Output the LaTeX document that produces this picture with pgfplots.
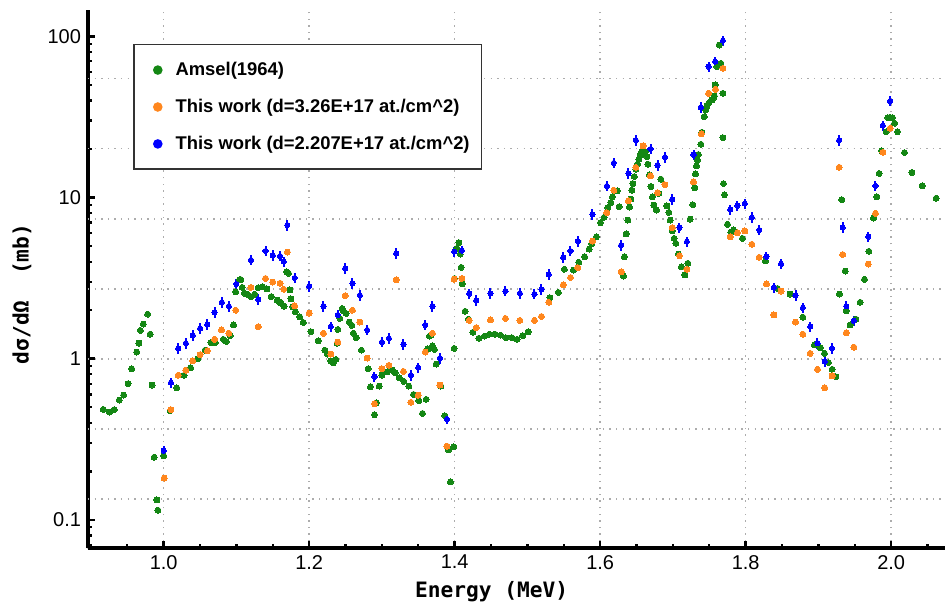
\documentclass[border=0pt]{standalone}
\usepackage{fontspec}
\setmainfont{Liberation Sans}
\newfontfamily\labfont{DejaVu Sans Mono}
\usepackage{pgfplots}
\pgfplotsset{compat=1.18}
\definecolor{amsel}{RGB}{20,135,20}
\definecolor{workA}{RGB}{255,135,30}
\definecolor{workB}{RGB}{0,0,255}

\pgfplotstableread{
x y
0.917 0.485
0.9255 0.467
0.932 0.483
0.939 0.554
0.945 0.595
0.951 0.70
0.956 0.867
0.963 1.10
0.966 1.25
0.968 1.50
0.972 1.64
0.978 1.89
0.9814 1.42
0.984 0.687
0.987 0.245
0.9907 0.133
0.992 0.115
1.000 0.250
1.009 0.476
1.018 0.66
1.028 0.79
1.037 0.88
1.047 1.00
1.057 1.13
1.065 1.26
1.071 1.26
1.082 1.32
1.086 1.28
1.0914 1.39
1.096 1.62
1.099 2.6
1.104 3.08
1.106 3.1
1.108 2.77
1.111 2.55
1.115 2.51
1.120 2.43
1.125 2.51
1.130 2.76
1.136 2.80
1.142 2.71
1.148 2.43
1.156 2.31
1.159 2.25
1.1615 2.21
1.1656 2.12
1.169 3.46
1.1716 3.39
1.1735 2.67
1.175 2.35
1.1776 2.10
1.181 1.96
1.187 1.82
1.192 1.68
1.2025 1.47
1.2124 1.29
1.2216 1.13
1.2252 1.07
1.2298 0.97
1.2334 0.944
1.2367 0.99
1.2385 1.25
1.2394 1.52
1.2422 1.78
1.2454 2.05
1.2471 1.98
1.2509 1.91
1.255 1.69
1.2587 1.61
1.2609 1.44
1.2646 1.35
1.2719 1.13
1.2811 0.867
1.2843 0.67
1.2898 0.45
1.2925 0.533
1.2962 0.677
1.30 0.792
1.3021 0.82
1.3076 0.83
1.3137 0.851
1.3182 0.82
1.3237 0.762
1.330 0.724
1.337 0.677
1.3434 0.601
1.3508 0.549
1.3558 0.458
1.3608 0.56
1.3632 1.15
1.3654 1.38
1.3673 1.40
1.3695 1.20
1.3723 1.14
1.3746 0.927
1.381 0.677
1.3865 0.443
1.3915 0.272
1.3942 0.172
1.3989 0.284
1.3993 1.16
1.3997 3.15
1.403 4.84
1.4058 5.25
1.4076 4.46
1.409 3.69
1.4103 2.91
1.4144 1.97
1.419 1.76
1.425 1.46
1.4332 1.34
1.441 1.38
1.4478 1.42
1.4553 1.42
1.463 1.40
1.4704 1.35
1.4786 1.35
1.4859 1.32
1.4937 1.39
1.501 1.47
1.5309 2.39
1.5425 2.58
1.5508 3.59
1.5633 3.55
1.5706 3.97
1.5785 4.29
1.5849 4.79
1.5886 5.17
1.5949 5.71
1.6004 6.98
1.6055 7.54
1.6106 8.64
1.6147 9.29
1.6169 10.1
1.6234 11.0
1.6261 8.77
1.632 3.26
1.6334 4.29
1.6357 5.94
1.638 7.25
1.6403 8.73
1.6422 9.79
1.6436 11.1
1.645 12.2
1.647 13.5
1.649 15.0
1.6513 16.1
1.6532 17.3
1.655 18.4
1.6573 19.2
1.6595 19.5
1.6619 19.2
1.6642 17.9
1.6656 16.1
1.6678 13.8
1.6697 11.7
1.6719 10.1
1.6738 8.98
1.6774 8.36
1.6807 10.6
1.6834 13.0
1.6917 8.86
1.6944 8.09
1.6962 7.25
1.6994 6.22
1.7017 5.58
1.704 5.20
1.7076 4.46
1.7117 3.71
1.7164 3.31
1.7205 3.91
1.7237 7.35
1.7274 9.02
1.730 11.5
1.731 14.0
1.7324 15.7
1.7337 17.1
1.735 18.5
1.7384 21.4
1.7398 25.4
1.743 31.7
1.745 34.9
1.7466 36.9
1.749 38.4
1.7536 40.3
1.7557 41.4
1.757 42.6
1.758 49.9
1.7604 64.8
1.7636 88.3
1.7659 68
1.7687 44.3
1.7687 23.5
1.7695 12.2
1.7709 10.4
1.775 6.82
1.7797 6.1
1.7832 6.29
1.7956 5.58
1.8272 4.04
1.8437 2.73
1.861 2.52
1.8786 1.81
1.8946 1.22
1.9028 1.17
1.9083 1.08
1.9138 0.947
1.9189 0.86
1.924 0.773
1.9289 2.52
1.932 9.7
1.9368 3.50
1.9381 1.98
1.9436 1.62
1.9515 1.76
1.9574 2.24
1.9633 3.11
1.9693 4.64
1.9757 7.46
1.9803 10.1
1.9835 14.1
1.9867 19.5
1.9931 25.6
1.9954 31.3
1.9986 31.4
2.0018 31.3
2.0046 28.9
2.0087 25.6
2.0183 19.0
2.0285 14.3
2.0426 11.8
2.0619 9.9
}\amseldata

\pgfplotstableread{
x y
1.0007 0.182
1.010 0.483
1.020 0.79
1.0305 0.85
1.040 0.97
1.050 1.06
1.060 1.12
1.070 1.32
1.0795 1.51
1.0896 1.44
1.099 2.0
1.12 2.77
1.13 1.58
1.14 3.15
1.15 2.99
1.16 2.94
1.165 2.70
1.17 4.59
1.18 2.13
1.20 1.92
1.2197 1.44
1.2298 1.07
1.2394 1.27
1.2495 2.46
1.2595 2.0
1.2697 1.69
1.2797 1.01
1.2898 0.526
1.30 0.867
1.3096 0.91
1.3196 3.08
1.3296 0.835
1.3398 0.537
1.3498 0.595
1.3595 1.10
1.3695 1.44
1.3797 0.687
1.3893 0.287
1.3993 3.12
1.41 3.15
1.42 1.73
1.4296 1.56
1.4492 1.74
1.4698 1.78
1.4896 1.73
1.5097 1.73
1.5193 1.83
1.5293 2.24
1.5492 2.87
1.5592 3.19
1.5693 3.67
1.5894 5.37
1.6092 8.05
1.6188 11.1
1.6289 3.46
1.6389 9.55
1.649 15.4
1.659 20.9
1.6692 13.6
1.6788 10.7
1.689 12.0
1.699 6.50
1.709 4.36
1.7192 3.59
1.7283 12.5
1.739 24.8
1.749 44.3
1.7585 46.9
1.7687 63.3
1.7787 5.71
1.7887 6.05
1.7989 6.2
1.8085 5.13
1.8186 4.26
1.8286 2.91
1.8388 1.87
1.8486 2.63
1.8685 1.69
1.8786 1.42
1.8887 1.08
1.8987 0.86
1.9086 0.661
1.9187 0.782
1.9285 15.4
1.9333 4.43
1.9383 1.45
1.9487 1.18
1.9684 3.87
1.9784 7.98
1.9886 19.1
1.9986 26.9
}\workAdata

\pgfplotstableread{
x y
1.000 0.269
1.010 0.71
1.020 1.16
1.0305 1.25
1.040 1.40
1.050 1.54
1.060 1.63
1.070 1.94
1.080 2.24
1.0896 2.12
1.0997 2.91
1.12 4.10
1.13 2.34
1.14 4.66
1.15 4.38
1.16 4.34
1.165 4.0
1.17 6.75
1.18 3.17
1.20 2.82
1.2197 2.12
1.2298 1.58
1.2394 1.87
1.2495 3.64
1.2595 2.94
1.2697 2.48
1.2797 1.51
1.2898 0.773
1.30 1.27
1.3096 1.34
1.3196 4.51
1.3296 1.23
1.3398 0.792
1.3498 0.88
1.3595 1.62
1.3695 2.12
1.3797 1.01
1.3893 0.423
1.3993 4.61
1.41 4.68
1.42 2.53
1.4296 2.30
1.4492 2.55
1.4698 2.63
1.4896 2.55
1.5097 2.52
1.5193 2.69
1.5293 3.34
1.5492 4.26
1.5592 4.66
1.5693 5.37
1.5894 7.87
1.6092 11.8
1.6188 16.4
1.6289 5.07
1.6389 14.1
1.649 22.7
1.6692 20.0
1.6788 15.9
1.689 17.8
1.699 9.75
1.709 6.5
1.7192 5.32
1.7283 18.4
1.7384 36.3
1.749 64.8
1.758 69.6
1.7687 93.9
1.7787 8.4
1.7887 8.9
1.7989 9.15
1.8085 7.54
1.8186 6.29
1.8286 4.29
1.8388 2.76
1.8486 3.88
1.8685 2.47
1.8786 2.07
1.8887 1.58
1.8987 1.25
1.9086 0.96
1.9187 1.16
1.9285 22.7
1.9333 6.52
1.9383 2.12
1.9487 1.72
1.9684 5.71
1.9784 11.8
1.9886 27.9
1.9986 39.7
}\workBdata

\begin{document}
\begin{tikzpicture}
\useasboundingbox (-44pt,-31pt) rectangle (429pt,274pt);
\begin{axis}[
  scale only axis, width=428.5pt, height=269pt,
  xmin=0.896, xmax=2.074,
  ymode=log, ymin=0.067, ymax=145.6,
  axis x line*=bottom, axis y line*=left,
  axis line style={line width=2pt},
  xtick={1,1.2,1.4,1.6,1.8,2},
  xticklabels={1.0,1.2,1.4,1.6,1.8,2.0},
  minor xtick={0.95,1.05,1.1,1.15,1.25,1.3,1.35,1.45,1.5,1.55,1.65,1.7,1.75,1.85,1.9,1.95,2.05},
  ytick={0.1,1,10,100},
  yticklabels={0.1,1,10,100},
  minor ytick={0.07,0.08,0.09,0.2,0.3,0.4,0.5,0.6,0.7,0.8,0.9,2,3,4,5,6,7,8,9,20,30,40,50,60,70,80,90},
  tick align=inside,
  major tick length=3.5pt, minor tick length=2pt,
  tick style={line width=1.3pt, black},
  minor tick style={line width=1.1pt, black},
  xmajorgrids,
  extra y ticks={0.1353,0.3679,1,2.7183,7.389,20.09,54.6},
  extra y tick labels={},
  extra y tick style={grid=major, tick style={draw=none}},
  major grid style={gray!65, line width=0.8pt, dash pattern=on 0.7pt off 2.6pt},
  tick label style={font=\fontsize{10}{12}\selectfont},
  xlabel={Energy (MeV)},
  ylabel={dσ/dΩ\ \ (mb)},
  every axis x label/.style={at={(axis description cs:0.471,-0.082)}, anchor=center,
    font=\labfont\bfseries\fontsize{10.6}{12}\selectfont},
  every axis y label/.style={at={(axis description cs:-0.077,0.472)}, rotate=90, anchor=center,
    font=\labfont\bfseries\fontsize{10.6}{12}\selectfont},
  legend cell align=left,
  legend style={at={(0.0525,0.937)}, anchor=north west, draw=black!80, line width=0.8pt, fill=white,
    font=\bfseries\fontsize{9.2}{11}\selectfont, row sep=8.3pt, inner xsep=5pt, inner ysep=7.6pt,
    column sep=5.5pt, nodes={inner sep=1pt}},
  legend image code/.code={\fill[draw=none] (0pt,0pt) circle (2.4pt); \path[draw=none,fill=none] (-7pt,-0.5pt) rectangle (2.4pt,0.5pt);},
]
\addplot[only marks, color=amsel, mark=*, mark size=1.5pt, mark options={line width=0pt}] table {\amseldata};
\addlegendentry{Amsel(1964)}
\addplot[only marks, color=workA, mark=*, mark size=1.5pt, mark options={line width=0pt}] table {\workAdata};
\addlegendentry{This work (d=3.26E+17 at./cm\textasciicircum 2)}
\addplot[only marks, color=workB, mark=*, mark size=1.3pt, mark options={line width=0pt},
  error bars/.cd, y dir=both, y fixed relative=0.075, error mark=none,
  error bar style={line width=1pt, workB}] table {\workBdata};
\addlegendentry{This work (d=2.207E+17 at./cm\textasciicircum 2)}
\draw[line width=2pt] (rel axis cs:0,0) -- ++(-10pt,0);
\draw[line width=2pt] (rel axis cs:0,0) -- ++(0,-6pt);
\end{axis}
\end{tikzpicture}
\end{document}
